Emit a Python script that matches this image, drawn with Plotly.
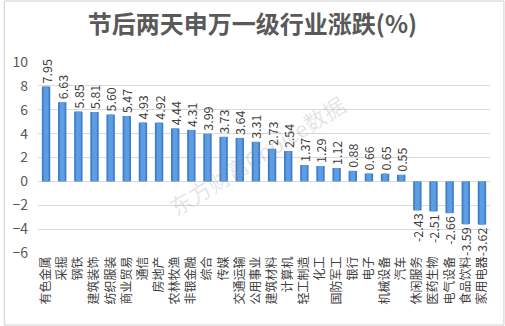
import plotly.graph_objects as go

# 申万一级行业：节后两天涨跌幅(%)
industries = ["有色金属", "采掘", "钢铁", "建筑装饰", "纺织服装", "商业贸易", "通信", "房地产",
              "农林牧渔", "非银金融", "综合", "传媒", "交通运输", "公用事业", "建筑材料", "计算机",
              "轻工制造", "化工", "国防军工", "银行", "电子", "机械设备", "汽车",
              "休闲服务", "医药生物", "电气设备", "食品饮料", "家用电器"]
changes = [7.95, 6.63, 5.85, 5.81, 5.60, 5.47, 4.93, 4.92,
           4.44, 4.31, 3.99, 3.73, 3.64, 3.31, 2.73, 2.54,
           1.37, 1.29, 1.12, 0.88, 0.66, 0.65, 0.55,
           -2.43, -2.51, -2.66, -3.59, -3.62]
y_ticks = [-6, -4, -2, 0, 2, 4, 6, 8, 10]

FONT = "Noto Sans CJK SC"
W, H = 505, 326
ML, MR, MT, MB = 35, 15, 62, 73
PW, PH = W - ML - MR, H - MT - MB

fig = go.Figure()
# outer column
fig.add_trace(go.Bar(
    x=industries, y=changes, width=0.52,
    marker=dict(color="#3f7fca", line=dict(width=0)),
    text=[f"{v:.2f}" for v in changes], textposition="outside",
    textangle=-90, constraintext="none",
    textfont=dict(family=FONT, size=12.5, color="#404040"),
    cliponaxis=False, hoverinfo="x+y",
))
# lighter core to give the column a rounded look
fig.add_trace(go.Bar(
    x=industries, y=changes, width=0.3,
    marker=dict(color="#5f9de2", line=dict(width=0)),
    hoverinfo="skip",
))

fig.update_layout(
    width=W, height=H,
    margin=dict(l=ML, r=MR, t=MT, b=MB),
    paper_bgcolor="white", plot_bgcolor="white",
    barmode="overlay", showlegend=False,
    title=dict(text="<b>节后两天申万一级行业涨跌(%)</b>", x=0.5, xanchor="center",
               y=1 - 25 / H, yanchor="middle",
               font=dict(family=FONT, size=24, color="#595959")),
    xaxis=dict(tickangle=-90, tickfont=dict(family=FONT, size=12, color="#404040"),
               showgrid=False, showline=False, ticks="", range=[-0.5, len(industries) - 0.5]),
    yaxis=dict(range=[-6, 10], tickvals=y_ticks, showgrid=True, gridcolor="#d9d9d9",
               gridwidth=1, zeroline=False, showline=False, ticks="", ticklabelstandoff=9,
               tickfont=dict(family=FONT, size=14, color="#595959")),
    annotations=[dict(
        text="东方财富Choice数据", xref="paper", yref="paper",
        x=(255 - ML) / PW, y=(H - MB - 155) / PH, showarrow=False, textangle=-32,
        font=dict(family=FONT, size=22, color="rgba(150,150,150,0.25)"),
    )],
    shapes=[dict(
        type="rect", xref="paper", yref="paper", layer="above",
        x0=(-ML + 1) / PW, x1=1 + (MR - 1) / PW,
        y0=(-MB + 1) / PH, y1=1 + (MT - 1) / PH,
        line=dict(color="#d0d0d0", width=1),
    )],
)

fig.write_html("out.html")
